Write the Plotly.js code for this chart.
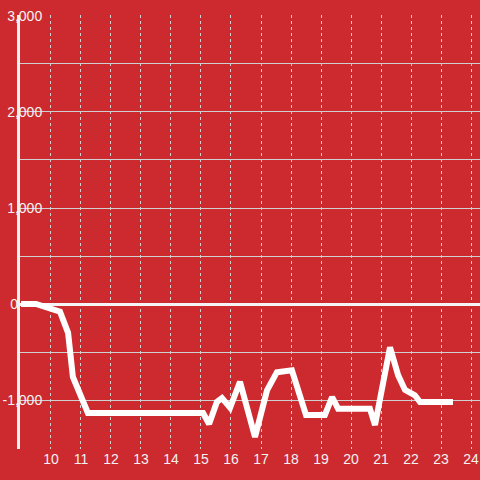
<!DOCTYPE html>
<html>
<head>
<meta charset="utf-8">
<script src="https://cdn.plot.ly/plotly-3.0.1.min.js"></script>
<style>
html,body{margin:0;padding:0;background:#cc2a2f;}
#chart{width:480px;height:480px;}
</style>
</head>
<body>
<div id="chart"></div>
<script>
// Data
const hours = [9.0, 9.5, 10.3, 10.57, 10.73, 11.23, 15.07, 15.27, 15.53, 15.7, 15.97, 16.3, 16.8, 17.2, 17.53, 18.03, 18.5, 19.13, 19.37, 19.57, 20.63, 20.8, 21.3, 21.57, 21.8, 22.13, 22.3, 23.4];
const values = [0, 0, -80, -300, -760, -1135, -1135, -1250, -1020, -980, -1080, -810, -1385, -900, -710, -690, -1155, -1155, -970, -1090, -1090, -1260, -450, -740, -895, -950, -1020, -1020];
const xTicks = [10, 11, 12, 13, 14, 15, 16, 17, 18, 19, 20, 21, 22, 23, 24];
const yTicks = [-1000, 1000, 2000, 3000];
const yTickLabels = ['-1,000', '1,000', '2,000', '3,000'];
const yZeroTick = [0];
const yZeroLabel = ['0'];

const bg = '#cc2a2f';
const yRange = [-1510, 3010];
const trace = {
  x: hours,
  y: values,
  type: 'scatter',
  mode: 'lines',
  line: {color: '#ffffff', width: 6},
  hoverinfo: 'skip'
};
// empty trace so the overlaid label axis (for the "0" label) gets drawn
const labelAxisTrace = {x: [], y: [], type: 'scatter', mode: 'lines', yaxis: 'y2', hoverinfo: 'skip'};

const layout = {
  width: 480,
  height: 480,
  margin: {l: 20, r: 0, t: 15, b: 31, pad: 0},
  paper_bgcolor: bg,
  plot_bgcolor: bg,
  showlegend: false,
  font: {family: 'Liberation Sans, Arial, sans-serif', size: 14, color: '#f2f2f2'},
  xaxis: {
    range: [8.967, 24.3],
    tickmode: 'array',
    tickvals: xTicks,
    ticktext: xTicks.map(String),
    showgrid: true,
    gridcolor: '#d0d0d0',
    gridwidth: 1,
    griddash: 'dot',
    zeroline: false,
    showline: false,
    ticks: '',
    tickfont: {size: 14, color: '#f2f2f2'}
  },
  yaxis: {
    range: yRange,
    tickmode: 'array',
    tickvals: yTicks,
    ticktext: yTickLabels,
    showgrid: true,
    gridcolor: '#d0d0d0',
    gridwidth: 1,
    zeroline: true,
    zerolinecolor: '#f5f5f5',
    zerolinewidth: 3,
    showline: true,
    linecolor: '#f0f0f0',
    linewidth: 3,
    ticks: '',
    ticklabelposition: 'outside',
    ticklabelstandoff: -28,
    tickfont: {size: 14, color: '#f2f2f2'},
    minor: {dtick: 500, tick0: 0, showgrid: true, gridcolor: '#d0d0d0', gridwidth: 1, ticks: ''}
  },
  yaxis2: {
    overlaying: 'y',
    anchor: 'x',
    side: 'left',
    range: yRange,
    tickmode: 'array',
    tickvals: yZeroTick,
    ticktext: yZeroLabel,
    showgrid: false,
    zeroline: false,
    showline: false,
    ticks: '',
    ticklabelposition: 'outside',
    ticklabelstandoff: 1,
    tickfont: {size: 14, color: '#f2f2f2'}
  }
};

Plotly.newPlot('chart', [trace, labelAxisTrace], layout, {displayModeBar: false, staticPlot: true});
</script>
</body>
</html>
